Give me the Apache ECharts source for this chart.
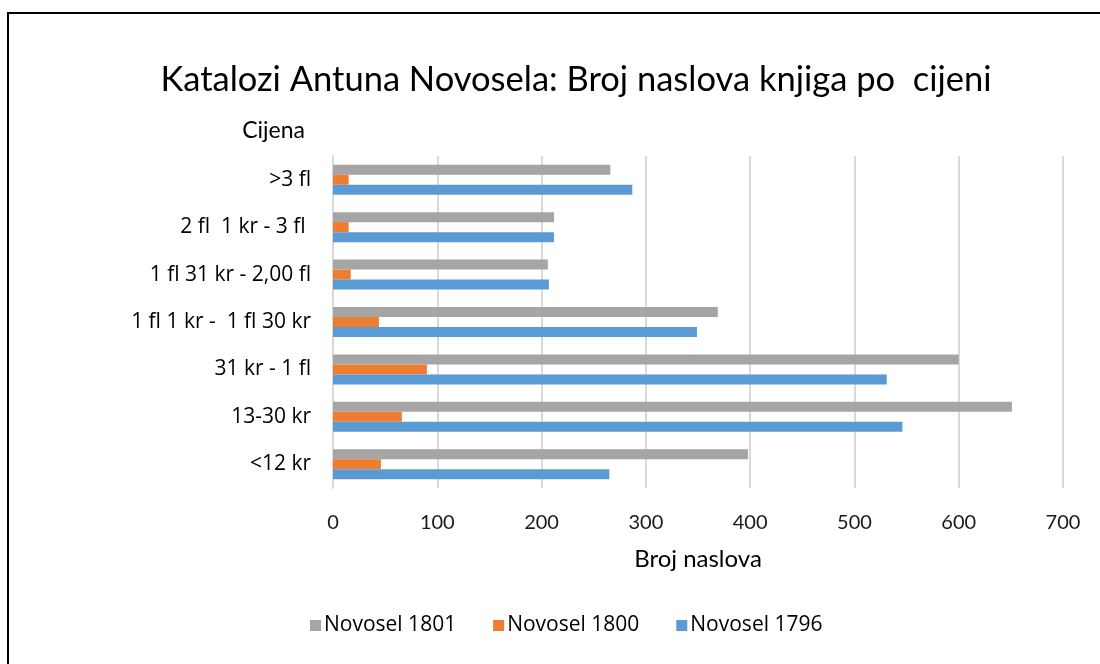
<!DOCTYPE html>
<html>
<head>
<meta charset="utf-8">
<script src="https://cdn.jsdelivr.net/npm/echarts@6/dist/echarts.min.js"></script>
<style>
  html, body { margin: 0; padding: 0; background: #fff; }
  #chart { width: 1100px; height: 664px; }
</style>
</head>
<body>
<div id="chart"></div>
<script>
// Price brackets, listed bottom to top on the category axis
const categories = ['<12 kr', '13-30 kr', '31 kr - 1 fl', '1 fl 1 kr -  1 fl 30 kr', '1 fl 31 kr - 2,00 fl', '2 fl  1 kr - 3 fl ', '>3 fl'];

// Number of titles per price bracket in each catalogue
const novosel1796 = [265, 546, 531, 349, 207, 212, 287];
const novosel1800 = [46, 66, 90, 44, 17, 15, 15];
const novosel1801 = [398, 651, 600, 369, 206, 212, 266];

const xTicks = { min: 0, max: 700, interval: 100 };

const FONT = '"Open Sans", "Noto Sans", sans-serif';
const FONT_B = 'Lato, "Open Sans", sans-serif';

const chart = echarts.init(document.getElementById('chart'), null, { renderer: 'canvas' });

chart.setOption({
  animation: false,
  backgroundColor: '#ffffff',
  title: {
    text: 'Katalozi Antuna Novosela: Broj naslova knjiga po  cijeni',
    left: 571,
    textAlign: 'center',
    top: 57,
    textStyle: { fontFamily: FONT_B, fontSize: 34.5, fontWeight: 'normal', color: '#000000' }
  },
  legend: {
    data: ['Novosel 1801', 'Novosel 1800', 'Novosel 1796'],
    left: 305,
    top: 610,
    itemWidth: 11,
    itemHeight: 11,
    itemGap: 37,
    icon: 'rect',
    textStyle: { fontFamily: FONT, fontSize: 21, color: '#000000', padding: [0, 0, 0, -2] }
  },
  grid: { left: 333, right: 37, top: 156, bottom: 176, containLabel: false },
  xAxis: {
    type: 'value',
    min: xTicks.min,
    max: xTicks.max,
    interval: xTicks.interval,
    name: 'Broj naslova',
    nameLocation: 'middle',
    nameGap: 59,
    nameTextStyle: { fontFamily: FONT_B, fontSize: 24, color: '#000000' },
    axisLine: { show: false },
    axisTick: { show: false },
    axisLabel: { fontFamily: FONT_B, fontSize: 20, color: '#1a1a1a', margin: 25 },
    splitLine: { show: true, lineStyle: { color: '#d9d9d9', width: 2 } }
  },
  yAxis: {
    type: 'category',
    data: categories,
    name: 'Cijena',
    nameLocation: 'end',
    nameGap: 14,
    nameTextStyle: { fontFamily: FONT_B, fontSize: 23, color: '#000000', align: 'right', padding: [0, 28, 0, 0] },
    axisLine: { show: true, lineStyle: { color: '#d9d9d9', width: 2 } },
    axisTick: { show: false },
    axisLabel: { fontFamily: FONT, fontSize: 21, color: '#000000', margin: 22 }
  },
  series: [
    { name: 'Novosel 1801', type: 'bar', data: novosel1801, barWidth: 10, barGap: '0%', itemStyle: { color: '#a5a5a5' } },
    { name: 'Novosel 1800', type: 'bar', data: novosel1800, barWidth: 10, barGap: '0%', itemStyle: { color: '#ed7d31' } },
    { name: 'Novosel 1796', type: 'bar', data: novosel1796, barWidth: 10, barGap: '0%', itemStyle: { color: '#5b9bd5' } }
  ],
  graphic: [
    {
      type: 'rect',
      silent: true,
      shape: { x: 8, y: 13, width: 1200, height: 800 },
      style: { fill: 'none', stroke: '#000000', lineWidth: 2 }
    }
  ]
});
</script>
</body>
</html>
